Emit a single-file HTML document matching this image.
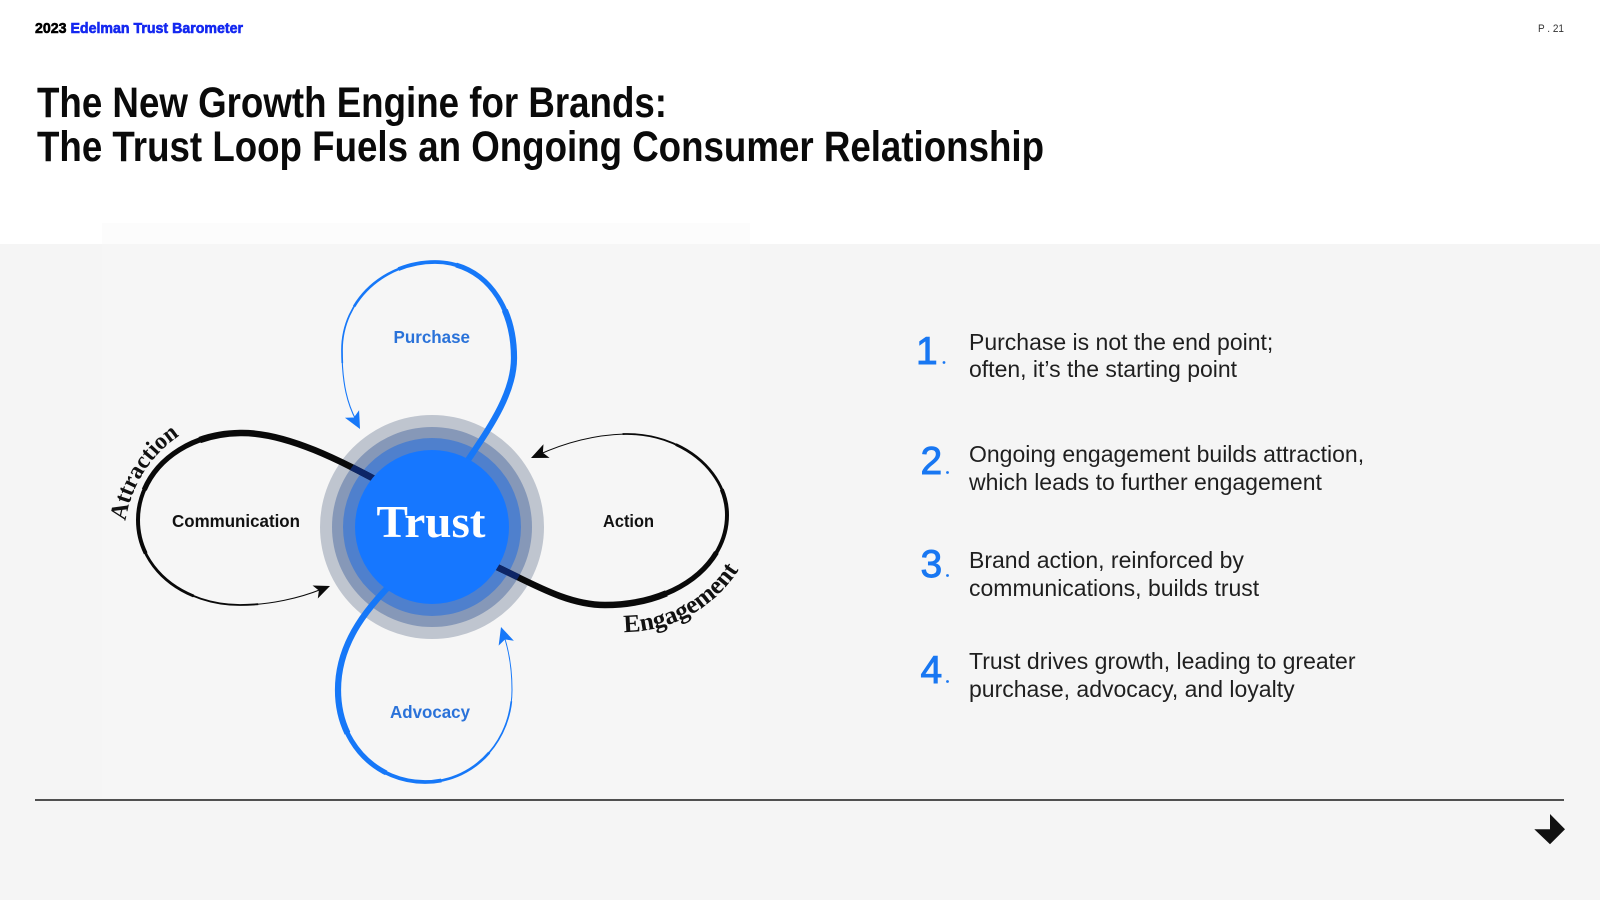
<!DOCTYPE html>
<html>
<head>
<meta charset="utf-8">
<style>
  html, body { margin: 0; padding: 0; background: #ffffff; }
  body { width: 1600px; height: 900px; overflow: hidden; }
  svg { display: block; }
  .sans { font-family: "Liberation Sans", Arial, sans-serif; }
  .serif { font-family: "Liberation Serif", "Times New Roman", serif; }
</style>
</head>
<body>
<svg width="1600" height="900" viewBox="0 0 1600 900" xmlns="http://www.w3.org/2000/svg">
  <defs>
    <clipPath id="ringclip">
      <circle cx="432" cy="527" r="100"/>
    </clipPath>
  </defs>

  <!-- backgrounds -->
  <rect x="0" y="0" width="1600" height="900" fill="#ffffff"/>
  <rect x="0" y="244" width="1600" height="656" fill="#f5f5f5"/>
  <rect x="102" y="223" width="648" height="21" fill="#fcfcfc"/>
  <rect x="102" y="244" width="648" height="554" fill="#f6f6f6"/>

  <!-- header -->
  <text class="sans" x="35" y="33" font-size="15" font-weight="bold" stroke-width="0.6" textLength="208" lengthAdjust="spacingAndGlyphs"><tspan fill="#000000" stroke="#000000">2023 </tspan><tspan fill="#1428f0" stroke="#1428f0">Edelman Trust Barometer</tspan></text>
  <text class="sans" x="1538" y="32" font-size="11" fill="#333333" textLength="26" lengthAdjust="spacingAndGlyphs">P . 21</text>

  <!-- title -->
  <text class="sans" x="37" y="117" font-size="43" font-weight="bold" fill="#0a0a0a" textLength="630" lengthAdjust="spacingAndGlyphs">The New Growth Engine for Brands:</text>
  <text class="sans" x="37" y="161" font-size="43" font-weight="bold" fill="#0a0a0a" textLength="1007" lengthAdjust="spacingAndGlyphs">The Trust Loop Fuels an Ongoing Consumer Relationship</text>

  <!-- rings -->
  <circle cx="432" cy="527" r="112" fill="#bfc5cf"/>
  <circle cx="432" cy="527" r="100" fill="#8698b8"/>
  <circle cx="432" cy="527" r="89" fill="#4f80cd"/>

  <!-- Communication loop (black) -->
  <g fill="none" stroke="#0a0a0a" stroke-linecap="butt">
    <path pathLength="100" stroke-width="6.5" stroke-dasharray="38 200" d="M395 490 C350 466 290 432 240 433 C178 434 138 475 138 520 C138 570 185 605 240 605 C270 605 300 598 322 589"/>
    <path pathLength="100" stroke-width="5.2" stroke-dasharray="52 200" d="M395 490 C350 466 290 432 240 433 C178 434 138 475 138 520 C138 570 185 605 240 605 C270 605 300 598 322 589"/>
    <path pathLength="100" stroke-width="4" stroke-dasharray="64 200" d="M395 490 C350 466 290 432 240 433 C178 434 138 475 138 520 C138 570 185 605 240 605 C270 605 300 598 322 589"/>
    <path pathLength="100" stroke-width="2.8" stroke-dasharray="76 200" d="M395 490 C350 466 290 432 240 433 C178 434 138 475 138 520 C138 570 185 605 240 605 C270 605 300 598 322 589"/>
    <path pathLength="100" stroke-width="1.8" stroke-dasharray="88 200" d="M395 490 C350 466 290 432 240 433 C178 434 138 475 138 520 C138 570 185 605 240 605 C270 605 300 598 322 589"/>
    <path stroke-width="1.1" d="M395 490 C350 466 290 432 240 433 C178 434 138 475 138 520 C138 570 185 605 240 605 C270 605 300 598 322 589"/>
  </g>

  <!-- Action loop (black) -->
  <g fill="none" stroke="#0a0a0a" stroke-linecap="butt">
    <path pathLength="100" stroke-width="6.5" stroke-dasharray="38 200" d="M470 555 C520 575 560 605 605 605 C675 605 727 565 727 515 C727 470 680 433 625 434 C590 435 560 445 538 455"/>
    <path pathLength="100" stroke-width="5.2" stroke-dasharray="50 200" d="M470 555 C520 575 560 605 605 605 C675 605 727 565 727 515 C727 470 680 433 625 434 C590 435 560 445 538 455"/>
    <path pathLength="100" stroke-width="4" stroke-dasharray="62 200" d="M470 555 C520 575 560 605 605 605 C675 605 727 565 727 515 C727 470 680 433 625 434 C590 435 560 445 538 455"/>
    <path pathLength="100" stroke-width="2.8" stroke-dasharray="74 200" d="M470 555 C520 575 560 605 605 605 C675 605 727 565 727 515 C727 470 680 433 625 434 C590 435 560 445 538 455"/>
    <path pathLength="100" stroke-width="1.8" stroke-dasharray="84 200" d="M470 555 C520 575 560 605 605 605 C675 605 727 565 727 515 C727 470 680 433 625 434 C590 435 560 445 538 455"/>
    <path stroke-width="1" d="M470 555 C520 575 560 605 605 605 C675 605 727 565 727 515 C727 470 680 433 625 434 C590 435 560 445 538 455"/>
  </g>

  <!-- navy tint where black lines cross the inner rings -->
  <g clip-path="url(#ringclip)" fill="none" stroke="#0d2566" stroke-width="6.5">
    <path pathLength="100" stroke-dasharray="38 200" d="M395 490 C350 466 290 432 240 433 C178 434 138 475 138 520 C138 570 185 605 240 605 C270 605 300 598 322 589"/>
    <path pathLength="100" stroke-dasharray="38 200" d="M470 555 C520 575 560 605 605 605 C675 605 727 565 727 515 C727 470 680 433 625 434 C590 435 560 445 538 455"/>
  </g>

  <!-- Purchase loop (blue) -->
  <g fill="none" stroke="#1778f8" stroke-linecap="butt">
    <path pathLength="100" stroke-width="6.2" stroke-dasharray="38 200" d="M455 480 C480 440 514 400 514 358 C514 300 480 262 435 262 C385 262 342 300 342 350 C342 385 348 405 356 420"/>
    <path pathLength="100" stroke-width="5" stroke-dasharray="52 200" d="M455 480 C480 440 514 400 514 358 C514 300 480 262 435 262 C385 262 342 300 342 350 C342 385 348 405 356 420"/>
    <path pathLength="100" stroke-width="3.8" stroke-dasharray="64 200" d="M455 480 C480 440 514 400 514 358 C514 300 480 262 435 262 C385 262 342 300 342 350 C342 385 348 405 356 420"/>
    <path pathLength="100" stroke-width="2.6" stroke-dasharray="76 200" d="M455 480 C480 440 514 400 514 358 C514 300 480 262 435 262 C385 262 342 300 342 350 C342 385 348 405 356 420"/>
    <path pathLength="100" stroke-width="1.7" stroke-dasharray="88 200" d="M455 480 C480 440 514 400 514 358 C514 300 480 262 435 262 C385 262 342 300 342 350 C342 385 348 405 356 420"/>
    <path stroke-width="1.1" d="M455 480 C480 440 514 400 514 358 C514 300 480 262 435 262 C385 262 342 300 342 350 C342 385 348 405 356 420"/>
  </g>

  <!-- Advocacy loop (blue) -->
  <g fill="none" stroke="#1778f8" stroke-linecap="butt">
    <path pathLength="100" stroke-width="6.2" stroke-dasharray="38 200" d="M400 575 C370 605 338 640 338 690 C338 745 378 782 425 782 C475 782 512 740 512 690 C512 665 508 648 504 636"/>
    <path pathLength="100" stroke-width="5" stroke-dasharray="50 200" d="M400 575 C370 605 338 640 338 690 C338 745 378 782 425 782 C475 782 512 740 512 690 C512 665 508 648 504 636"/>
    <path pathLength="100" stroke-width="3.8" stroke-dasharray="62 200" d="M400 575 C370 605 338 640 338 690 C338 745 378 782 425 782 C475 782 512 740 512 690 C512 665 508 648 504 636"/>
    <path pathLength="100" stroke-width="2.6" stroke-dasharray="74 200" d="M400 575 C370 605 338 640 338 690 C338 745 378 782 425 782 C475 782 512 740 512 690 C512 665 508 648 504 636"/>
    <path pathLength="100" stroke-width="1.7" stroke-dasharray="86 200" d="M400 575 C370 605 338 640 338 690 C338 745 378 782 425 782 C475 782 512 740 512 690 C512 665 508 648 504 636"/>
    <path stroke-width="1" d="M400 575 C370 605 338 640 338 690 C338 745 378 782 425 782 C475 782 512 740 512 690 C512 665 508 648 504 636"/>
  </g>

  <!-- arrowheads -->
  <polygon points="0,0 -16,-7 -12,0 -16,7" fill="#0a0a0a" transform="translate(330,586) rotate(-22)"/>
  <polygon points="0,0 -17,-7.5 -13,0 -17,7.5" fill="#0a0a0a" transform="translate(531,458) rotate(156)"/>
  <polygon points="0,0 -17,-8 -13,0 -17,8" fill="#1778f8" transform="translate(360,429) rotate(62)"/>
  <polygon points="0,0 -17,-8 -13,0 -17,8" fill="#1778f8" transform="translate(501,627) rotate(-108)"/>

  <!-- inner trust circle -->
  <circle cx="432" cy="527" r="77" fill="#1677ff"/>
  <text class="serif" x="431" y="537" font-size="45" font-weight="bold" fill="#ffffff" text-anchor="middle" textLength="109" lengthAdjust="spacingAndGlyphs">Trust</text>

  <!-- loop labels -->
  <text class="sans" x="172" y="527" font-size="17.5" font-weight="bold" fill="#111111" textLength="128" lengthAdjust="spacingAndGlyphs">Communication</text>
  <text class="sans" x="603" y="527" font-size="17.5" font-weight="bold" fill="#111111" textLength="51" lengthAdjust="spacingAndGlyphs">Action</text>
  <text class="sans" x="393.5" y="343" font-size="17.5" font-weight="bold" fill="#2a72d9" textLength="76.5" lengthAdjust="spacingAndGlyphs">Purchase</text>
  <text class="sans" x="390" y="718" font-size="17.5" font-weight="bold" fill="#2a72d9" textLength="80" lengthAdjust="spacingAndGlyphs">Advocacy</text>

  <!-- curved labels -->
  <path id="attrPath" d="M125.5 521 A126 126 0 0 1 206.9 421.6" fill="none"/>
  <text class="serif" font-size="24" font-weight="bold" fill="#111111"><textPath href="#attrPath" textLength="104" lengthAdjust="spacingAndGlyphs">Attraction</textPath></text>

  <path id="engPath" d="M624 632 A136 136 0 0 0 748 553" fill="none"/>
  <text class="serif" font-size="25" font-weight="bold" fill="#111111"><textPath href="#engPath" textLength="136" lengthAdjust="spacingAndGlyphs">Engagement</textPath></text>

  <!-- right column numbered list -->
  <g class="sans" fill="#1877f2" stroke="#1877f2" stroke-width="0.9">
    <text x="916" y="364" font-size="39">1</text>
    <text x="920.5" y="474" font-size="39">2</text>
    <text x="920.5" y="577" font-size="39">3</text>
    <text x="920.5" y="683" font-size="39">4</text>
  </g>
  <g fill="#1877f2">
    <circle cx="944" cy="362.5" r="1.4"/>
    <circle cx="947.5" cy="472.5" r="1.4"/>
    <circle cx="947.5" cy="575.5" r="1.4"/>
    <circle cx="947.5" cy="681.5" r="1.4"/>
  </g>
  <g class="sans" fill="#1f1f1f" font-size="23">
    <text x="969" y="350">Purchase is not the end point;</text>
    <text x="969" y="377">often, it’s the starting point</text>
    <text x="969" y="462">Ongoing engagement builds attraction,</text>
    <text x="969" y="490">which leads to further engagement</text>
    <text x="969" y="568">Brand action, reinforced by</text>
    <text x="969" y="596">communications, builds trust</text>
    <text x="969" y="669">Trust drives growth, leading to greater</text>
    <text x="969" y="697">purchase, advocacy, and loyalty</text>
  </g>

  <!-- bottom rule and arrow -->
  <line x1="35" y1="800" x2="1564" y2="800" stroke="#1a1a1a" stroke-width="1.5"/>
  <polygon points="1550,814 1565,829.3 1550,844.3 1534.3,829.3 1550,829.3" fill="#111111"/>
</svg>
</body>
</html>
